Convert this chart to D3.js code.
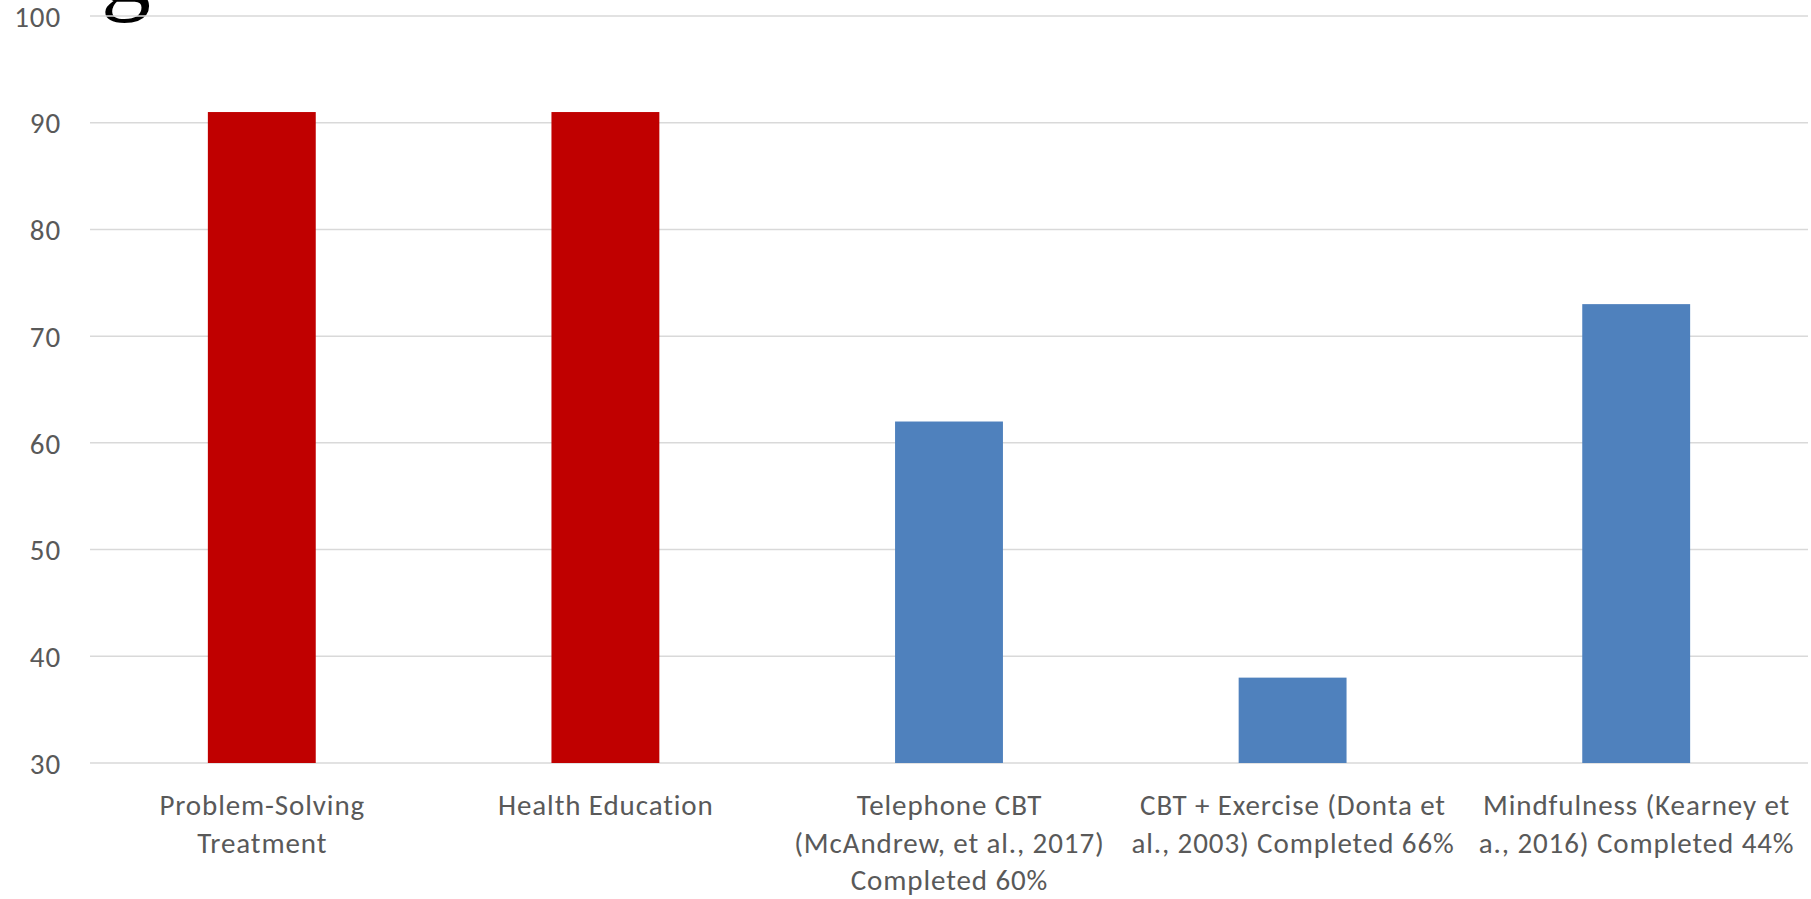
<!DOCTYPE html>
<html><head><meta charset="utf-8">
<script src="https://cdn.jsdelivr.net/npm/d3@7"></script>
<style>body{margin:0;background:#fff;} svg{display:block;}</style>
</head><body>
<svg id="c" width="1811" height="899"></svg>
<script>
const categories = [
  ["Problem-Solving", "Treatment"],
  ["Health Education"],
  ["Telephone CBT", "(McAndrew, et al., 2017)", "Completed 60%"],
  ["CBT + Exercise (Donta et", "al., 2003) Completed 66%"],
  ["Mindfulness (Kearney et", "a., 2016) Completed 44%"]
];
const values = [91, 91, 62, 38, 73];
const barColors = ["#c00000", "#c00000", "#4f81bd", "#4f81bd", "#4f81bd"];
const yTicks = [30, 40, 50, 60, 70, 80, 90, 100];

(function () {
const svg = d3.select("#c");
const mLeft = 90, mRight = 1808, mTop = 16, mBottom = 763;
const font = "Carlito, Calibri, Lato, sans-serif";
const fs = 29, ls = 0.9;

const x = d3.scaleBand().domain(d3.range(categories.length)).range([mLeft, mRight]).paddingInner(0.686).paddingOuter(0.343);
const y = d3.scaleLinear().domain([30, 100]).range([mBottom, mTop]);

// title remnant (cut off at top, as in the reference)
svg.append("text").attr("x", 101).attr("y", 2).attr("font-family", "Liberation Serif, Times New Roman, serif")
  .attr("font-size", 100).attr("fill", "#000").text("g");

// gridlines
svg.append("g").selectAll("line").data(yTicks).join("line")
  .attr("x1", mLeft).attr("x2", mRight).attr("y1", d => y(d)).attr("y2", d => y(d))
  .attr("stroke", "#d9d9d9").attr("stroke-width", 1.5);

// y axis labels
const yAxis = d3.axisLeft(y).tickValues(yTicks).tickSize(0).tickPadding(0);
const ya = svg.append("g").attr("transform", `translate(61,0)`).call(yAxis);
ya.select(".domain").remove();
ya.selectAll("text").attr("font-family", font).attr("font-size", fs).attr("letter-spacing", ls)
  .attr("fill", "#595959").attr("dy", "0.35em");

// bars
svg.append("g").selectAll("rect").data(values).join("rect")
  .attr("x", (d, i) => x(i)).attr("width", x.bandwidth())
  .attr("y", d => y(d)).attr("height", d => y(30) - y(d))
  .attr("fill", (d, i) => barColors[i]);

// category labels
const xa = svg.append("g");
categories.forEach((lines, i) => {
  const cx = x(i) + x.bandwidth() / 2 + ls / 2;
  const t = xa.append("text").attr("text-anchor", "middle").attr("font-family", font)
    .attr("font-size", fs).attr("letter-spacing", ls).attr("fill", "#595959");
  lines.forEach((ln, j) => t.append("tspan").attr("x", cx).attr("y", 815 + j * 37.5).text(ln));
});
})();
</script>
</body></html>
